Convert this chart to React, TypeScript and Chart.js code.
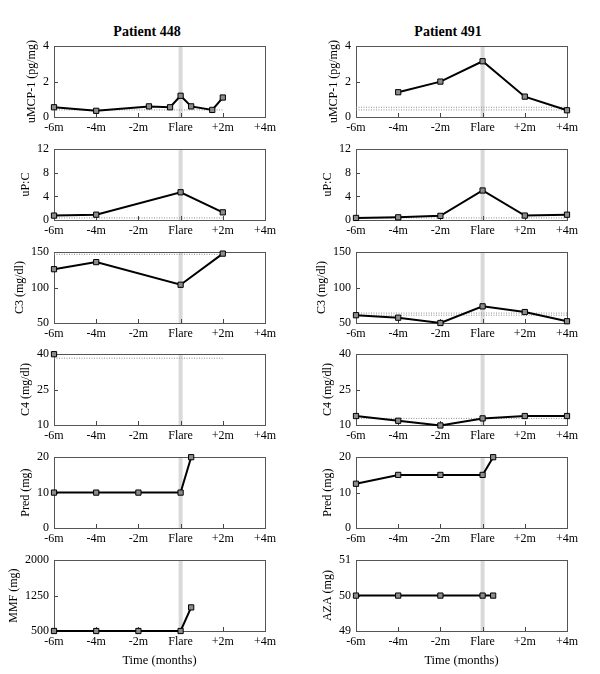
import React, { useEffect, useRef } from 'react';
import { Chart, registerables } from 'chart.js';

Chart.register(...registerables);
const FONT_FAMILY = "'Liberation Serif', 'DejaVu Serif', serif";
Chart.defaults.font.family = FONT_FAMILY;
Chart.defaults.color = '#000';

// ---------- data ----------
const MONTH_TICKS = [-6, -4, -2, 0, 2, 4];
const MONTH_LABELS = ['-6m', '-4m', '-2m', 'Flare', '+2m', '+4m'];
const FLARE_MONTH = 0;
const X_MIN = -6;
const X_MAX = 4;

const PATIENTS = ['Patient 448', 'Patient 491'];
const X_AXIS_TITLE = 'Time (months)';

// Patient 448
const p448McpX = [-6, -4, -1.5, -0.5, 0, 0.5, 1.5, 2];
const p448McpY = [0.55, 0.35, 0.6, 0.55, 1.2, 0.6, 0.4, 1.1];
const p448McpRef = [0.4];
const p448PcX = [-6, -4, 0, 2];
const p448PcY = [0.75, 0.9, 4.7, 1.3];
const p448PcRef = [0.35];
const p448C3X = [-6, -4, 0, 2];
const p448C3Y = [126, 136, 104, 148];
const p448C3Ref = [147];
const p448C4X = [-6];
const p448C4Y = [40];
const p448C4Ref = [38.3];
const p448PredX = [-6, -4, -2, 0, 0.5];
const p448PredY = [10, 10, 10, 10, 20];
const p448MmfX = [-6, -4, -2, 0, 0.5];
const p448MmfY = [500, 500, 500, 500, 1000];
const p448RefSpan = [-6, 2];

// Patient 491
const p491McpX = [-4, -2, 0, 2, 4];
const p491McpY = [1.4, 2.0, 3.15, 1.15, 0.38];
const p491McpRef = [0.55, 0.4];
const p491PcX = [-6, -4, -2, 0, 2, 4];
const p491PcY = [0.35, 0.45, 0.7, 5.0, 0.75, 0.9];
const p491PcRef = [0.35];
const p491C3X = [-6, -4, -2, 0, 2, 4];
const p491C3Y = [61, 57.5, 50, 73.5, 65.5, 52.5];
const p491C3Ref = [64, 61];
const p491C4X = [-6, -4, -2, 0, 2, 4];
const p491C4Y = [13.8, 11.8, 9.8, 12.8, 13.8, 13.8];
const p491C4Ref = [12.8];
const p491PredX = [-6, -4, -2, 0, 0.5];
const p491PredY = [12.5, 15, 15, 15, 20];
const p491AzaX = [-6, -4, -2, 0, 0.5];
const p491AzaY = [50, 50, 50, 50, 50];
const p491RefSpan = [-6, 4];

// y axes
const mcpTicks = [0, 2, 4];
const pcTicks = [0, 4, 8, 12];
const c3Ticks = [50, 100, 150];
const c4Ticks = [10, 25, 40];
const predTicks = [0, 10, 20];
const mmfTicks = [500, 1250, 2000];
const azaTicks = [49, 50, 51];

type Spec = {
  title: string;
  ticks: number[];
  xs: number[];
  ys: number[];
  refs: number[];
  span: number[];
};

const LEFT: Spec[] = [
  { title: 'uMCP-1 (pg/mg)', ticks: mcpTicks, xs: p448McpX, ys: p448McpY, refs: p448McpRef, span: p448RefSpan },
  { title: 'uP:C', ticks: pcTicks, xs: p448PcX, ys: p448PcY, refs: p448PcRef, span: p448RefSpan },
  { title: 'C3 (mg/dl)', ticks: c3Ticks, xs: p448C3X, ys: p448C3Y, refs: p448C3Ref, span: p448RefSpan },
  { title: 'C4 (mg/dl)', ticks: c4Ticks, xs: p448C4X, ys: p448C4Y, refs: p448C4Ref, span: p448RefSpan },
  { title: 'Pred (mg)', ticks: predTicks, xs: p448PredX, ys: p448PredY, refs: [], span: p448RefSpan },
  { title: 'MMF (mg)', ticks: mmfTicks, xs: p448MmfX, ys: p448MmfY, refs: [], span: p448RefSpan },
];
const RIGHT: Spec[] = [
  { title: 'uMCP-1 (pg/mg)', ticks: mcpTicks, xs: p491McpX, ys: p491McpY, refs: p491McpRef, span: p491RefSpan },
  { title: 'uP:C', ticks: pcTicks, xs: p491PcX, ys: p491PcY, refs: p491PcRef, span: p491RefSpan },
  { title: 'C3 (mg/dl)', ticks: c3Ticks, xs: p491C3X, ys: p491C3Y, refs: p491C3Ref, span: p491RefSpan },
  { title: 'C4 (mg/dl)', ticks: c4Ticks, xs: p491C4X, ys: p491C4Y, refs: p491C4Ref, span: p491RefSpan },
  { title: 'Pred (mg)', ticks: predTicks, xs: p491PredX, ys: p491PredY, refs: [], span: p491RefSpan },
  { title: 'AZA (mg)', ticks: azaTicks, xs: p491AzaX, ys: p491AzaY, refs: [], span: p491RefSpan },
];

// ---------- layout ----------
const PLOT_W = 211;
const PLOT_H = 73;
const Y_AXIS_W = 54;
const PAD_TOP = 10;
const PAD_RIGHT = 20;
const X_AXIS_H = 20;
const X_AXIS_H_LAST = 40;
const COL_LEFT = [54, 356];
const ROW_TOP0 = 44;
const ROW_STEP = 102.8;
const TICK_FONT = 12;
const Y_TICK_PAD = 5;
const TITLE_GAP = 11; // from tick-label left edge to title centre

function measure(text: string, size: number): number {
  const c = document.createElement('canvas').getContext('2d')!;
  c.font = `${size}px ${FONT_FAMILY}`;
  return c.measureText(text).width;
}

const framePlugin = {
  id: 'frame',
  beforeDatasetsDraw(chart: any) {
    const { ctx, chartArea: a, scales } = chart;
    const x = scales.x;
    const y = scales.y;
    ctx.save();
    // flare band
    const fx = x.getPixelForValue(FLARE_MONTH);
    ctx.fillStyle = '#d9d9d9';
    ctx.fillRect(fx - 2, a.top, 4, a.bottom - a.top);
    // inward ticks
    ctx.strokeStyle = '#444';
    ctx.lineWidth = 1;
    ctx.beginPath();
    x.ticks.forEach((t: any) => {
      const px = Math.round(x.getPixelForValue(t.value)) + 0.5;
      ctx.moveTo(px, a.bottom);
      ctx.lineTo(px, a.bottom - 4);
    });
    y.ticks.forEach((t: any) => {
      const py = Math.round(y.getPixelForValue(t.value)) + 0.5;
      ctx.moveTo(a.left, py);
      ctx.lineTo(a.left + 4, py);
    });
    ctx.stroke();
    // frame
    ctx.strokeStyle = '#555';
    ctx.strokeRect(Math.round(a.left) + 0.5, Math.round(a.top) + 0.5, Math.round(a.right - a.left), Math.round(a.bottom - a.top));
    ctx.restore();
  },
};

function Panel({ spec, col, row, last }: { spec: Spec; col: number; row: number; last: boolean }) {
  const ref = useRef<HTMLCanvasElement>(null);
  const xh = last ? X_AXIS_H_LAST : X_AXIS_H;
  const width = Y_AXIS_W + PLOT_W + PAD_RIGHT;
  const height = PAD_TOP + PLOT_H + xh;
  const left = COL_LEFT[col] - Y_AXIS_W;
  const top = ROW_TOP0 + row * ROW_STEP - PAD_TOP;

  useEffect(() => {
    const canvas = ref.current!;
    const yMin = spec.ticks[0];
    const yMax = spec.ticks[spec.ticks.length - 1];
    const labelW = Math.max(...spec.ticks.map((t) => measure(String(t), TICK_FONT)));
    const titleLH = TICK_FONT * 1.2;
    const titleCenter = Y_AXIS_W - Y_TICK_PAD - labelW - TITLE_GAP;
    const titlePad = Math.max(0, titleCenter - titleLH / 2);

    const datasets: any[] = spec.refs.map((r) => ({
      data: [
        { x: spec.span[0], y: r },
        { x: spec.span[1], y: r },
      ],
      borderColor: '#8f8f8f',
      borderWidth: 1,
      borderDash: [1, 1.5],
      pointRadius: 0,
      fill: false,
      clip: false,
      order: 2,
    }));
    datasets.push({
      data: spec.xs.map((x, i) => ({ x, y: spec.ys[i] })),
      borderColor: '#000',
      borderWidth: 2,
      pointStyle: 'rect',
      pointRadius: 3.7,
      pointBackgroundColor: '#8c8c8c',
      pointBorderColor: '#000',
      pointBorderWidth: 1,
      fill: false,
      clip: false,
      tension: 0,
      order: 1,
    });
    const chart = new Chart(canvas, {
      type: 'line',
      data: { datasets },
      options: {
        animation: false,
        responsive: false,
        maintainAspectRatio: false,
        events: [],
        layout: { padding: { top: PAD_TOP, right: PAD_RIGHT, left: 0, bottom: 0 } },
        plugins: { legend: { display: false }, tooltip: { enabled: false }, title: { display: false } },
        scales: {
          x: {
            type: 'linear',
            min: X_MIN,
            max: X_MAX,
            afterBuildTicks: (s: any) => {
              s.ticks = MONTH_TICKS.map((v) => ({ value: v }));
            },
            afterFit: (s: any) => {
              s.height = xh;
            },
            ticks: {
              autoSkip: false,
              maxRotation: 0,
              padding: 4,
              color: '#000',
              font: { size: TICK_FONT },
              callback: (v: any) => {
                const i = MONTH_TICKS.indexOf(Number(v));
                return i >= 0 ? MONTH_LABELS[i] : '';
              },
            },
            grid: { display: false, drawTicks: false },
            border: { display: false },
            title: {
              display: last,
              text: X_AXIS_TITLE,
              color: '#000',
              font: { size: 12.5 },
              padding: { top: 0, bottom: 3 },
            },
          },
          y: {
            type: 'linear',
            min: yMin,
            max: yMax,
            afterBuildTicks: (s: any) => {
              s.ticks = spec.ticks.map((v) => ({ value: v }));
            },
            afterFit: (s: any) => {
              s.width = Y_AXIS_W;
            },
            ticks: {
              padding: Y_TICK_PAD,
              color: '#000',
              font: { size: TICK_FONT },
              callback: (v: any) => String(v),
            },
            grid: { display: false, drawTicks: false },
            border: { display: false },
            title: {
              display: true,
              text: spec.title,
              color: '#000',
              font: { size: TICK_FONT },
              padding: { top: titlePad, bottom: 0 },
            },
          },
        },
      } as any,
      plugins: [framePlugin],
    });
    return () => chart.destroy();
  }, [spec, last, xh]);

  return (
    <canvas
      ref={ref}
      width={width}
      height={height}
      style={{ position: 'absolute', left, top, width, height }}
    />
  );
}

export default function App() {
  const titleStyle = (cx: number): React.CSSProperties => ({
    position: 'absolute',
    left: cx - 80,
    width: 160,
    top: 23,
    textAlign: 'center',
    fontFamily: FONT_FAMILY,
    fontWeight: 'bold',
    fontSize: 14,
    lineHeight: '18px',
    color: '#000',
  });
  return (
    <div style={{ position: 'absolute', left: 0, top: 0, width: 600, height: 674, background: '#fff' }}>
      <div style={titleStyle(147)}>{PATIENTS[0]}</div>
      <div style={titleStyle(448)}>{PATIENTS[1]}</div>
      {LEFT.map((s, r) => (
        <Panel key={'l' + r} spec={s} col={0} row={r} last={r === LEFT.length - 1} />
      ))}
      {RIGHT.map((s, r) => (
        <Panel key={'r' + r} spec={s} col={1} row={r} last={r === RIGHT.length - 1} />
      ))}
    </div>
  );
}
